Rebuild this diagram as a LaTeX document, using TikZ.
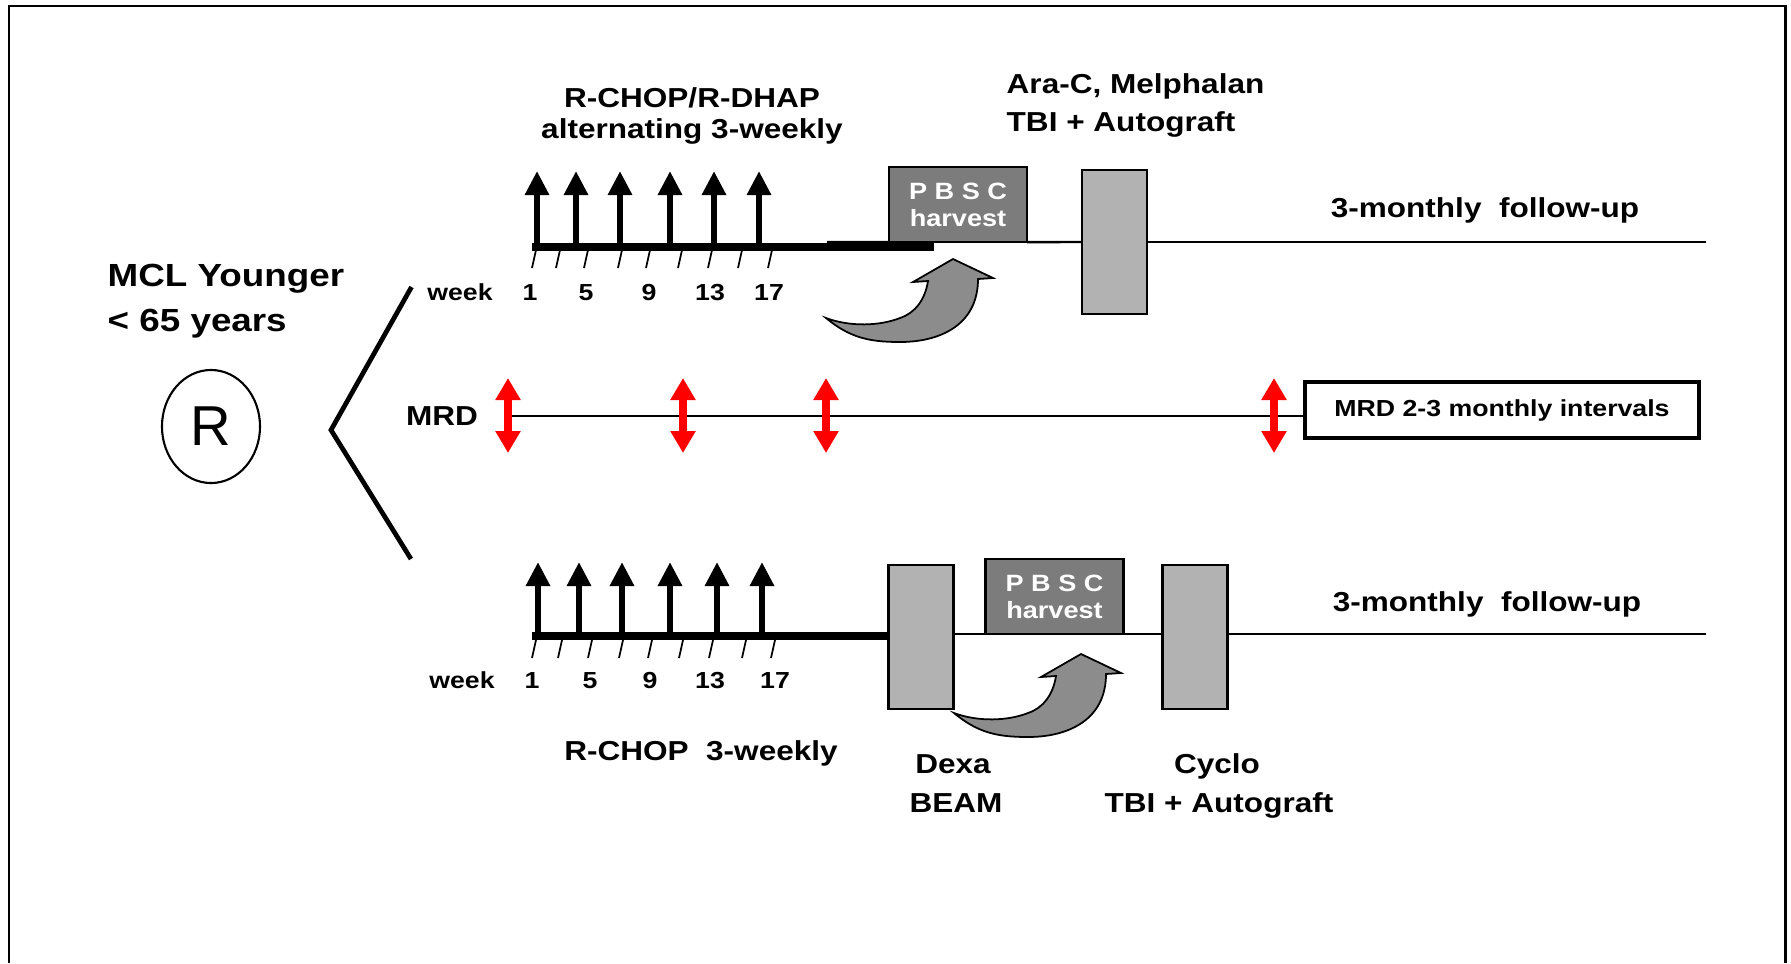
\documentclass[tikz,border=0pt]{standalone}
\usepackage{fontspec}
\setmainfont{Liberation Sans}[FakeStretch=1.15]
\newfontfamily\plainsans{Liberation Sans}
\usetikzlibrary{arrows.meta,shapes.geometric}

\definecolor{pbscgray}{RGB}{124,124,124}
\definecolor{regimengray}{RGB}{178,178,178}
\definecolor{bendgray}{RGB}{140,140,140}

\begin{document}
\begin{tikzpicture}[x=0.01cm, y=-0.01cm,
  lbl/.style={inner sep=0pt, anchor=base, font=\bfseries\fontsize{7.8}{9}\selectfont},
  wk/.style={inner sep=0pt, anchor=base, font=\bfseries\fontsize{6.6}{8}\selectfont},
  tline/.style={line width=0.7pt},
  thickline/.style={line width=2.3pt},
  cycle arrow/.style={line width=1.9pt, -{Triangle[width=0.23cm, length=0.24cm]}},
  mrd arrow/.style={red, line width=2.3pt, {Triangle[width=0.24cm, length=0.22cm]}-{Triangle[width=0.24cm, length=0.22cm]}},
  pbsc/.style={draw, line width=0.65pt, fill=pbscgray, text=white, align=center, inner sep=0pt, outer sep=0pt,
    minimum width=1.38cm, minimum height=0.75cm, font=\bfseries\fontsize{6.7}{7.7}\selectfont},
  regimen/.style={draw, line width=0.65pt, fill=regimengray, inner sep=0pt, outer sep=0pt,
    minimum width=0.65cm, minimum height=1.44cm},
  bentarrow/.style={draw=black, line width=0.5pt, fill=bendgray}]

  \useasboundingbox (0,0) rectangle (1791,963);
  \draw[line width=0.7pt] (9,963) -- (9,6) -- (1785.5,6) -- (1785.5,963);

  % left: randomisation
  \node[lbl, anchor=base west, font=\bfseries\fontsize{9.1}{11}\selectfont] (mcl) at (107,286) {MCL Younger};
  \node[lbl, anchor=base west, font=\bfseries\fontsize{9.1}{11}\selectfont] (age) at (107,331) {< 65 years};
  \node[draw, ellipse, line width=0.6pt, inner sep=0pt, minimum width=0.98cm, minimum height=1.13cm,
    font=\plainsans\fontsize{16}{18}\selectfont] (rand) at (211,426.5) {R};

  \coordinate (brT) at (411.5,287);
  \coordinate (brV) at (331,430);
  \coordinate (brB) at (411,559);
  \draw[line width=1.35pt] (brT) -- (brV) -- (brB);

  % harvest arrows (top arm, then bottom arm)
  \foreach \dx/\dy in {0/0, 128/395}
    \draw[bentarrow, shift={(\dx,\dy)}] (826,318) .. controls (850,338) and (870,342) .. (900,342)
      .. controls (940,342) and (978,325) .. (978,279) -- (993,278) -- (953,259) -- (913,282)
      -- (928,281) .. controls (925,300) and (915,313) .. (900,318)
      .. controls (880,326) and (850,327) .. (826,318) -- cycle;

  % top arm: R-CHOP/R-DHAP
  \node[lbl] (chemA1) at (692,107) {R-CHOP/R-DHAP};
  \node[lbl] (chemA2) at (692,138) {alternating 3-weekly};
  \node[lbl, anchor=base west] (condA1) at (1006,93) {Ara-C, Melphalan};
  \node[lbl, anchor=base west] (condA2) at (1006,131) {TBI + Autograft};
  \node[lbl] (fupA) at (1485,217) {3-monthly\ \ follow-up};

  \node[pbsc] (pbscA) at (958,204.5) {P B S C\\harvest};
  \node[regimen] (araA) at (1114.5,242) {};

  \coordinate (tkA) at (532,247);
  \coordinate (tkAend) at (934,247);
  \coordinate (thA) at (827,242);
  \coordinate (endA) at (1706,242);
  \draw[tline] (thA) -- (pbscA.south west);
  \draw[thickline] (tkA) -- (tkAend);
  \draw[tline] (pbscA.south east) -- (araA.west);
  \draw[tline] (araA.east) -- (endA);

  \foreach \x in {537,576,620,670,714,759}
    \draw[cycle arrow] (\x,247) -- (\x,171);
  \foreach \x in {534,558,586,620,648,680,710,740,770}
    \draw[line width=0.5pt] (\x+2,250) -- (\x-2,268);
  \node[wk] (weekA) at (460,300) {week};
  \foreach \x/\w in {530/1, 586/5, 649/9, 710/13, 769/17}
    \node[wk] (wA\w) at (\x,300) {\w};

  % MRD monitoring
  \node[lbl] (mrd) at (442,425) {MRD};
  \node[draw, line width=1pt, inner sep=0pt, minimum width=3.94cm, minimum height=0.56cm,
    font=\bfseries\fontsize{6.6}{8}\selectfont] (mrdbox) at (1502,410) {MRD 2-3 monthly intervals};
  \coordinate (mrdL) at (508,416);
  \draw[tline] (mrdL) -- (mrdL -| mrdbox.west);
  \foreach \x in {508,683,826,1274}
    \draw[mrd arrow] (\x,453) -- (\x,378);

  % bottom arm: R-CHOP
  \node[regimen] (dexa) at (921,637) {};
  \node[pbsc] (pbscB) at (1054.5,596.5) {P B S C\\harvest};
  \node[regimen] (cyclo) at (1195,637) {};

  \coordinate (tkB) at (532,636);
  \coordinate (endB) at (1706,634);
  \draw[thickline] (tkB) -- (tkB -| dexa.west);
  \draw[tline] (dexa.east |- endB) -- (cyclo.west |- endB);
  \draw[tline] (cyclo.east |- endB) -- (endB);

  \foreach \x in {538,579,622,670,717,762}
    \draw[cycle arrow] (\x,636) -- (\x,562);
  \foreach \x in {534,560,590,621,650,681,711,744,773}
    \draw[line width=0.5pt] (\x+2,640) -- (\x-2,658);
  \node[wk] (weekB) at (462,688) {week};
  \foreach \x/\w in {532/1, 590/5, 650/9, 710/13, 775/17}
    \node[wk] (wB\w) at (\x,688) {\w};

  \node[lbl] (chemB) at (701,760) {R-CHOP\ \ 3-weekly};
  \node[lbl] (condB1) at (953,773) {Dexa};
  \node[lbl] (condB2) at (956,812) {BEAM};
  \node[lbl] (condC1) at (1217,773) {Cyclo};
  \node[lbl] (condC2) at (1219,812) {TBI + Autograft};
  \node[lbl] (fupB) at (1487,611) {3-monthly\ \ follow-up};
\end{tikzpicture}
\end{document}
